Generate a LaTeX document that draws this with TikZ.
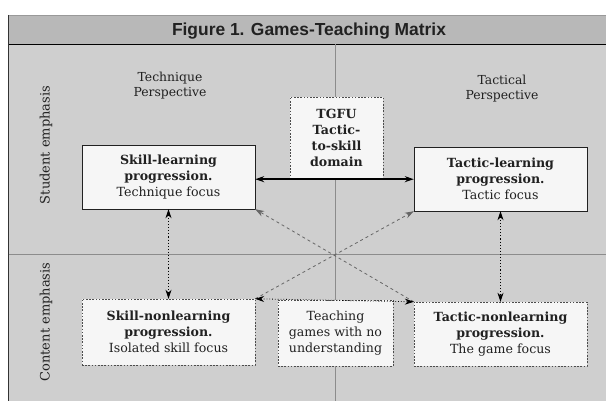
\documentclass[tikz,border=0pt]{standalone}
\usepackage{fontspec}
\setmainfont{DejaVu Serif}
\newfontfamily\titlefont{Liberation Sans}
\usetikzlibrary{arrows.meta}
\definecolor{bandgray}{gray}{0.72}
\definecolor{bodygray}{gray}{0.81}
\definecolor{boxwhite}{gray}{0.965}
\definecolor{inkgray}{gray}{0.13}
\tikzset{solidbox/.style={draw=inkgray,fill=boxwhite,rectangle,minimum width=173pt,minimum height=64pt,
        inner sep=0,align=center,text=inkgray,font=\fontsize{12.6}{15.8}\selectfont},
    dottybox/.style={solidbox,draw=black!70,dash pattern=on 1.6pt off 1.6pt},
    persplabel/.style={align=center,text=inkgray,font=\fontsize{12.4}{15}\selectfont},
    emphlabel/.style={rotate=90,text=inkgray,font=\fontsize{13}{15}\selectfont},
    divider/.style={draw=black!45,line width=0.6pt},
    twoway/.style={{Stealth[length=9pt,width=6pt]}-{Stealth[length=9pt,width=6pt]}}
}

\begin{document}
\begin{tikzpicture}[x=1pt,y=-1pt]
\useasboundingbox (0,0) rectangle (606,401);

% frame and matrix cells
\fill [bandgray] (8.5,15) rectangle (606,44);
\fill [bodygray] (8.5,44) rectangle (606,401);
\draw [black!40] (8.5,15) -- (606,15);
\draw [black,line width=0.9pt] (8.5,44) -- (606,44);
\draw [black!80,line width=1pt] (8.5,15) -- (8.5,401);
\draw [divider] (335,44) -- (335,401);
\draw [divider] (8.5,254) -- (606,254);

\node (title) [text=inkgray,font=\titlefont\bfseries\fontsize{17.4}{20}\selectfont] at (309,31) {Figure 1. Games-Teaching Matrix};

\node (technique) [persplabel] at (170,86) {Technique\\Perspective};
\node (tactical) [persplabel] at (502,89) {Tactical\\Perspective};

\node (student) [emphlabel] at (46,145) {Student emphasis};
\node (content) [emphlabel] at (46,322) {Content emphasis};

\node (skill learn) [solidbox] at (168.5,177) {\textbf{Skill-learning}\\\textbf{progression.}\\Technique focus};
\node (tactic learn) [solidbox] at (500.5,179) {\textbf{Tactic-learning}\\\textbf{progression.}\\Tactic focus};
\node (tgfu) [dottybox,minimum width=93pt,minimum height=82pt] at (336.5,138) {\textbf{TGFU}\\\textbf{Tactic-}\\\textbf{to-skill}\\\textbf{domain}};

\node (skill nonlearn) [dottybox,minimum height=66pt] at (168.5,332) {\textbf{Skill-nonlearning}\\\textbf{progression.}\\Isolated skill focus};
\node (teaching) [dottybox,minimum width=115pt,minimum height=66pt] at (335.5,333) {Teaching\\games with no\\understanding};
\node (tactic nonlearn) [dottybox,minimum height=64pt] at (500.5,334) {\textbf{Tactic-nonlearning}\\\textbf{progression.}\\The game focus};

\draw [twoway,black,line width=1.6pt] (skill learn.east |- tgfu.south) -- (tactic learn.west |- tgfu.south);

\draw [twoway,black,line width=1.1pt,dotted] (skill learn.south) -- (skill nonlearn.north);
\draw [twoway,black,line width=1.1pt,dotted] (tactic learn.south) -- (tactic nonlearn.north);

\draw [-{Stealth[length=9pt,width=6pt]},black!60,line width=0.8pt,dashed] (skill nonlearn.north east) -- (tactic learn.south west);
\draw [-{Stealth[length=9pt,width=6pt]},black!60,line width=0.8pt,dashed] (tactic nonlearn.north west) -- (skill learn.south east);

\draw [twoway,black,line width=0.8pt,dotted] (skill nonlearn.north east) -- (tactic nonlearn.north west);

\end{tikzpicture}
\end{document}
